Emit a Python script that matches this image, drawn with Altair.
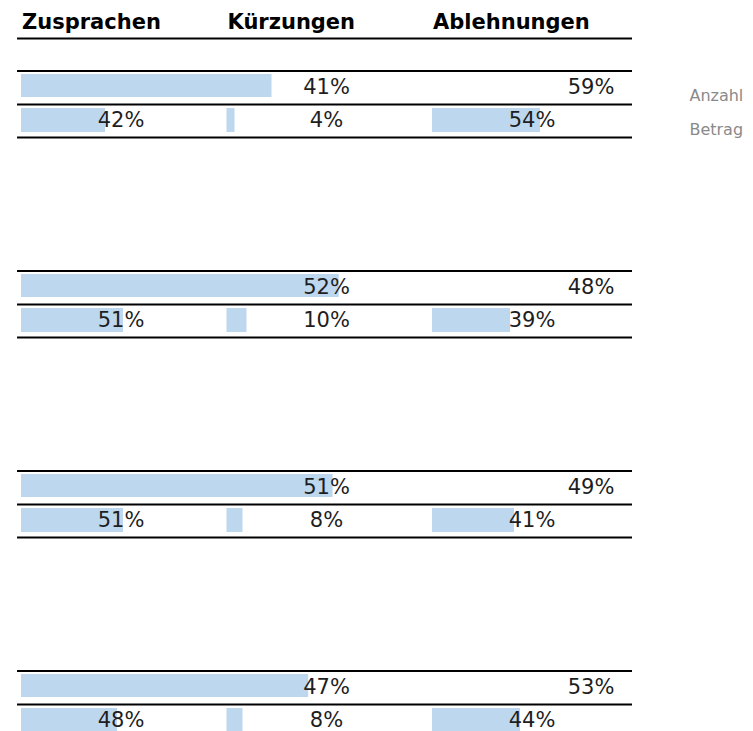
import altair as alt
import pandas as pd

# ---------------- data ----------------
columns = ["Zusprachen", "Kürzungen", "Ablehnungen"]
row_names = ["Anzahl", "Betrag"]
group_ids = [1, 2, 3, 4]

anzahl_zusprachen = [41, 52, 51, 47]
anzahl_ablehnungen = [59, 48, 49, 53]
betrag_zusprachen = [42, 51, 51, 48]
betrag_kuerzungen = [4, 10, 8, 8]
betrag_ablehnungen = [54, 39, 41, 44]

# ---------------- layout (scale units) ----------------
GAP = 0.9
COL_W = (100 - 2 * GAP) / 3
COL_START = [i * (COL_W + GAP) for i in range(3)]
PITCH = 200
TOP0 = 63
BAR_COLOR = "#BDD7EE"
TEXT_COLOR = "#1e1e1e"

bars, labels, rules = [], [], []
betrag = [betrag_zusprachen, betrag_kuerzungen, betrag_ablehnungen]
for gi, g in enumerate(group_ids):
    top = TOP0 + gi * PITCH
    # Anzahl row: one bar over full width
    bars.append(dict(x=0, x2=anzahl_zusprachen[gi], y=top + 3, y2=top + 26))
    labels.append(dict(x=50, y=top + 16.5, t=f"{anzahl_zusprachen[gi]}%"))
    labels.append(dict(x=93.3, y=top + 16.5, t=f"{anzahl_ablehnungen[gi]}%"))
    # Betrag row: three columns
    for ci in range(3):
        v = betrag[ci][gi]
        s = COL_START[ci]
        bars.append(dict(x=s, x2=s + v / 100 * COL_W, y=top + 37, y2=top + 61))
        labels.append(dict(x=s + COL_W / 2, y=top + 49.5, t=f"{v}%"))
    for dy in (0, 33.5, 66.5):
        rules.append(dict(y=top + dy))

bars_df = pd.DataFrame(bars)
labels_df = pd.DataFrame(labels)
rules_df = pd.DataFrame(rules)
rules_df["x"] = -0.65
rules_df["x2"] = 100
header_df = pd.DataFrame(dict(x=COL_START, t=columns))
legend_df = pd.DataFrame(dict(x=[109.4, 109.4], y=[TOP0 + 30, TOP0 + 64], t=row_names))

W, H = 611, 723
xs = alt.Scale(domain=[0, 100], nice=False, zero=False)
ys = alt.Scale(domain=[0, H], reverse=True, nice=False, zero=False)

bar_layer = alt.Chart(bars_df).mark_rect(color=BAR_COLOR).encode(
    x=alt.X("x:Q", scale=xs, axis=None),
    x2="x2:Q",
    y=alt.Y("y:Q", scale=ys, axis=None),
    y2="y2:Q",
)

rule_layer = alt.Chart(rules_df).mark_rule(color="black", strokeWidth=2).encode(
    x="x:Q", x2="x2:Q", y="y:Q"
)

header_rule = alt.Chart(pd.DataFrame(dict(x=[-0.65], x2=[100], y=[30.5]))).mark_rule(
    color="black", strokeWidth=2
).encode(x="x:Q", x2="x2:Q", y="y:Q")

label_layer = alt.Chart(labels_df).mark_text(
    font="DejaVu Sans", fontSize=21, color=TEXT_COLOR, align="center", baseline="middle"
).encode(x="x:Q", y="y:Q", text="t:N")

header_layer = alt.Chart(header_df).mark_text(
    font="DejaVu Sans", fontWeight="bold", fontSize=21, color="black",
    align="left", baseline="alphabetic", dx=1,
).encode(x="x:Q", y=alt.datum(21), text="t:N")

legend_layer = alt.Chart(legend_df).mark_text(
    font="DejaVu Sans", fontSize=16, color="#8a8a8a", align="left", baseline="alphabetic"
).encode(x="x:Q", y="y:Q", text="t:N")

chart = alt.layer(
    bar_layer, rule_layer, header_rule, label_layer, header_layer, legend_layer
).properties(
    width=W, height=H,
    autosize=alt.AutoSizeParams(type="none"),
    padding={"left": 13, "right": 113, "top": 0, "bottom": 0},
).configure_view(stroke=None)

chart.save("out.html", embed_options={"renderer": "svg", "actions": False})
